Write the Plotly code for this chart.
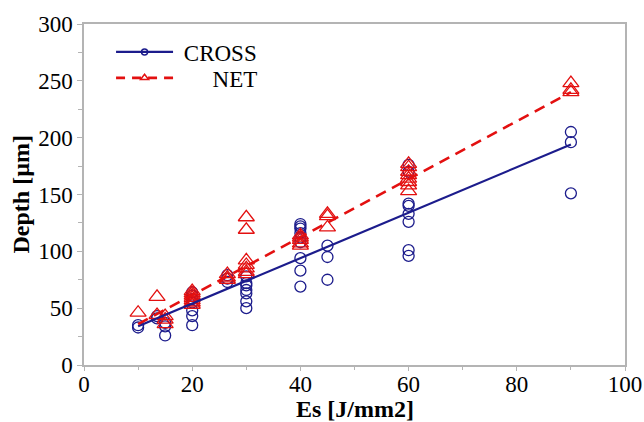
import plotly.graph_objects as go

# ---- data ----
cross_x = [10, 10,
           13.5, 13.5,
           15, 15, 15,
           20, 20, 20, 20, 20, 20, 20,
           26.5, 26.5, 26.5,
           30, 30, 30, 30, 30, 30, 30,
           40, 40, 40, 40, 40, 40, 40, 40, 40,
           45, 45, 45,
           60, 60, 60, 60, 60, 60, 60, 60,
           90, 90, 90]
cross_y = [33, 35,
           41, 43,
           26, 34, 37,
           35, 43, 48, 55, 58, 61, 64,
           73, 76, 79,
           50, 56, 63, 66, 70, 72, 78,
           69, 83, 94, 108, 112, 116, 120, 122, 124,
           75, 95, 105,
           96, 101, 126, 133, 140, 142, 170, 176,
           151, 196, 205]

net_x = [10,
         13.5, 13.5,
         15, 15, 15,
         20, 20, 20, 20, 20, 20, 20,
         26.5, 26.5, 26.5,
         30, 30, 30, 30, 30, 30, 30,
         40, 40, 40, 40, 40,
         45, 45, 45,
         60, 60, 60, 60, 60, 60, 60, 60,
         90, 90, 90]
net_y = [46,
         44, 60,
         36, 40, 43,
         53, 55, 57, 59, 61, 63, 65,
         75, 77, 80,
         80, 82, 85, 88, 92, 119, 130,
         105, 107, 110, 112, 114,
         121, 131, 133,
         153, 158, 161, 164, 167, 170, 174, 177,
         240, 242, 248]

# linear fit lines (end points)
fit_x = [10, 90]
cross_fit = [34, 194]
net_fit = [36, 240]

x_ticks = [0, 20, 40, 60, 80, 100]
y_ticks = [0, 50, 100, 150, 200, 250, 300]

BLUE = "#1c1c8c"
RED = "#e31010"
GRID = "#b4b4b4"
FONT = "Liberation Serif"

fig = go.Figure()

fig.add_trace(go.Scatter(
    x=cross_x, y=cross_y, mode="markers", showlegend=False,
    marker=dict(symbol="circle-open", size=11, color=BLUE, line=dict(width=1.3, color=BLUE)),
))
fig.add_trace(go.Scatter(
    x=net_x, y=net_y, mode="markers", showlegend=False,
    marker=dict(symbol="triangle-up-open", size=14, color=RED, line=dict(width=1.3, color=RED)),
))
fig.add_trace(go.Scatter(
    x=fit_x, y=cross_fit, mode="lines", showlegend=False,
    line=dict(color=BLUE, width=2.2),
))
fig.add_trace(go.Scatter(
    x=fit_x, y=net_fit, mode="lines", showlegend=False,
    line=dict(color=RED, width=2.6, dash="11px,7px"),
))

# legend entries (two separate legends so each row can be placed like the reference)
fig.add_trace(go.Scatter(
    x=[None], y=[None], mode="lines+markers", name="\u00a0CROSS", legend="legend",
    line=dict(color=BLUE, width=2.2),
    marker=dict(symbol="circle-open", size=6, color=BLUE, line=dict(width=1.5, color=BLUE)),
))
fig.add_trace(go.Scatter(
    x=[None], y=[None], mode="lines+markers", legend="legend2",
    name="\u00a0\u00a0\u00a0\u00a0\u00a0\u00a0NET",
    line=dict(color=RED, width=2.6, dash="9px,7px"),
    marker=dict(symbol="triangle-up-open", size=7, color=RED, line=dict(width=1.5, color=RED)),
))

legend_common = dict(
    xanchor="left", yanchor="middle",
    bgcolor="rgba(0,0,0,0)", borderwidth=0,
    font=dict(family=FONT, size=23, color="black"),
    itemwidth=57,
)

fig.update_layout(
    width=644, height=422,
    margin=dict(l=84, r=19, t=24, b=57, autoexpand=False),
    paper_bgcolor="white", plot_bgcolor="white",
    font=dict(family=FONT, size=23, color="black"),
    showlegend=True,
    legend=dict(x=0.05, y=0.918, **legend_common),
    legend2=dict(x=0.05, y=0.842, **legend_common),
    annotations=[
        dict(text="<b>Es [J/mm2]</b>", xref="paper", yref="paper", x=0.5, y=0,
             xanchor="center", yanchor="middle", yshift=-44, showarrow=False,
             font=dict(family=FONT, size=24, color="black")),
        dict(text="<b>Depth [µm]</b>", xref="paper", yref="paper", x=0, y=0.5,
             xanchor="center", yanchor="middle", xshift=-64, textangle=-90, showarrow=False,
             font=dict(family=FONT, size=24, color="black")),
    ],
)

fig.update_xaxes(
    range=[0, 100], tickvals=x_ticks, ticktext=[str(v) for v in x_ticks],
    showgrid=False, zeroline=False,
    showline=True, linecolor=GRID, linewidth=1.5, mirror=True,
    ticks="outside", ticklen=4, tickcolor=GRID, tickwidth=1,
    minor=dict(ticks="outside", ticklen=3, tickcolor=GRID, dtick=10, tick0=0, showgrid=False),
    tickfont=dict(family=FONT, size=23, color="black"),
    ticklabelstandoff=-6,
)
fig.update_yaxes(
    range=[0, 300], tickvals=y_ticks, ticktext=[str(v) for v in y_ticks],
    showgrid=False, zeroline=False,
    showline=True, linecolor=GRID, linewidth=1.5, mirror=True,
    ticks="outside", ticklen=5, tickcolor=GRID, tickwidth=1,
    minor=dict(ticks="outside", ticklen=4, tickcolor=GRID, dtick=25, tick0=0, showgrid=False),
    tickfont=dict(family=FONT, size=23, color="black"),
)

fig.write_html("out.html")
